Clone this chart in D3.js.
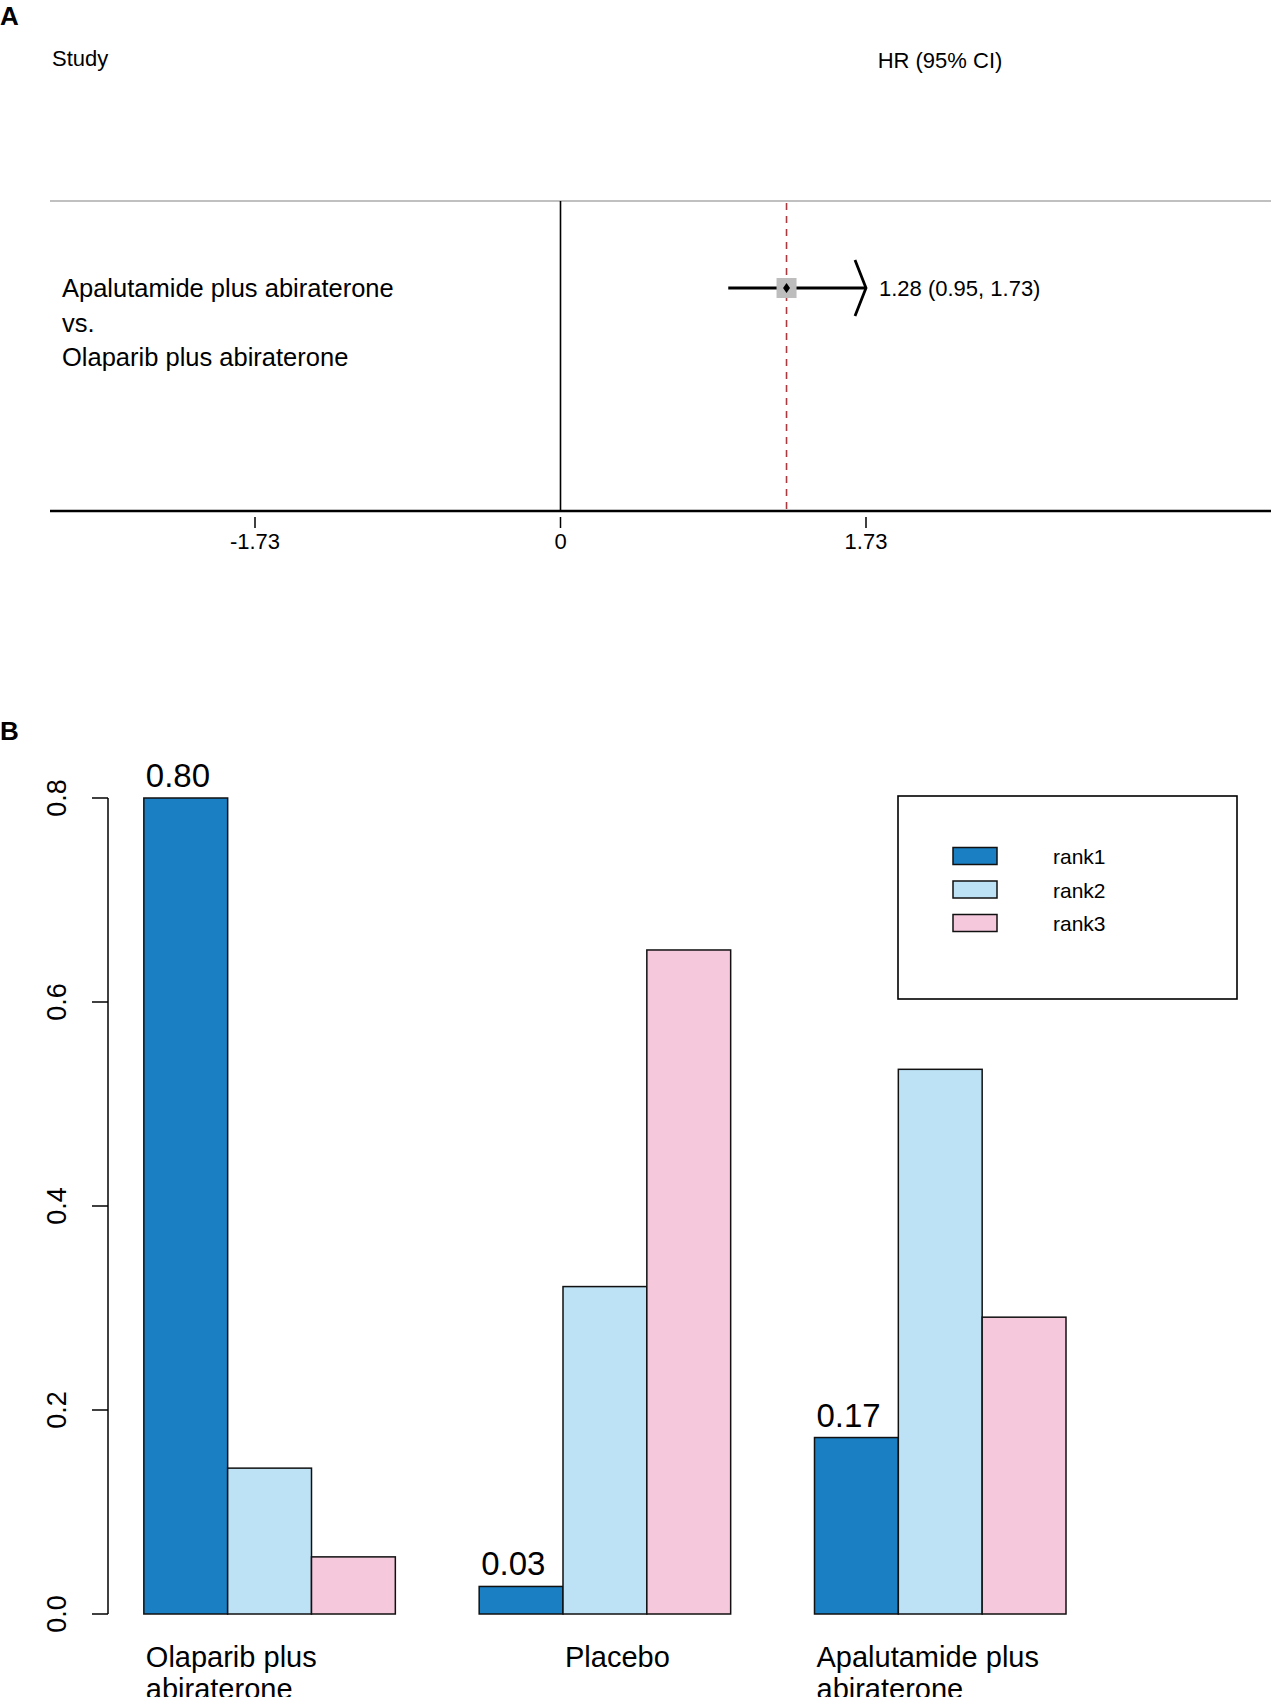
<!DOCTYPE html>
<html><head>
<meta charset="utf-8">
<script src="https://d3js.org/d3.v7.min.js"></script>
<style>
  body { margin: 0; background: #fff; }
  svg text { font-family: "Liberation Sans", Arial, sans-serif; fill: #000; }
</style>
</head>
<body>
<svg id="chart" width="1271" height="1697"></svg>
<script>
// ---- panel A data (forest plot)
const studyLines = ["Apalutamide plus abiraterone", "vs.", "Olaparib plus abiraterone"];
const hr = 1.28, ciLow = 0.95, ciHigh = 1.73;
const hrLabel = "1.28 (0.95, 1.73)";
const forestTicks = [-1.73, 0, 1.73];

// ---- panel B data (rank probabilities)
const treatments = [["Olaparib plus", "abiraterone"], ["Placebo"], ["Apalutamide plus", "abiraterone"]];
const ranks = ["rank1", "rank2", "rank3"];
const rank1 = [0.80, 0.027, 0.173];
const rank2 = [0.143, 0.321, 0.534];
const rank3 = [0.056, 0.651, 0.291];
const rank1Labels = ["0.80", "0.03", "0.17"];
const yTicks = [0.0, 0.2, 0.4, 0.6, 0.8];
const rankColors = ["#1a7fc3", "#bde2f6", "#f5c8dc"];

const svg = d3.select("#chart");

// ================= Panel A =================
const a = svg.append("g");
a.append("text").text("A").attr("x", 0).attr("y", 25)
  .attr("font-size", 26).attr("font-weight", "bold");

a.append("text").text("Study").attr("x", 52).attr("y", 66).attr("font-size", 22);
a.append("text").text("HR (95% CI)").attr("x", 940).attr("y", 68)
  .attr("font-size", 22).attr("text-anchor", "middle");

const xA = d3.scaleLinear().domain([-1.73, 1.73]).range([255, 866]);
const topY = 201, axisY = 511, rowY = 288;

a.append("line").attr("x1", 50).attr("x2", 1271).attr("y1", topY).attr("y2", topY)
  .attr("stroke", "#c0c0c0").attr("stroke-width", 2);

a.append("line").attr("x1", xA(0)).attr("x2", xA(0)).attr("y1", topY).attr("y2", axisY)
  .attr("stroke", "#000").attr("stroke-width", 1.6);

a.append("line").attr("x1", xA(hr)).attr("x2", xA(hr)).attr("y1", topY + 2).attr("y2", axisY)
  .attr("stroke", "#a83a40").attr("stroke-width", 1.6).attr("stroke-dasharray", "7,6");

a.append("line").attr("x1", 50).attr("x2", 1271).attr("y1", axisY).attr("y2", axisY)
  .attr("stroke", "#000").attr("stroke-width", 2.5);

const ticks = a.selectAll("g.tick").data(forestTicks).join("g").attr("class", "tick")
  .attr("transform", d => `translate(${xA(d)},0)`);
ticks.append("line").attr("y1", axisY + 6).attr("y2", axisY + 17)
  .attr("stroke", "#000").attr("stroke-width", 1.5);
ticks.append("text").text(d => String(d)).attr("y", axisY + 38)
  .attr("text-anchor", "middle").attr("font-size", 22);

// CI line with open arrow at upper bound
a.append("line").attr("x1", xA(ciLow)).attr("x2", xA(ciHigh)).attr("y1", rowY).attr("y2", rowY)
  .attr("stroke", "#000").attr("stroke-width", 2.8);
a.append("path")
  .attr("d", `M${xA(ciHigh) - 11},${rowY - 28} L${xA(ciHigh)},${rowY} L${xA(ciHigh) - 11},${rowY + 28}`)
  .attr("fill", "none").attr("stroke", "#000").attr("stroke-width", 2.8);
a.append("rect").attr("x", xA(hr) - 10).attr("y", rowY - 10).attr("width", 20).attr("height", 20)
  .attr("fill", "#bdbdbd");
a.append("path")
  .attr("d", `M${xA(hr)},${rowY - 5} L${xA(hr) + 3.5},${rowY} L${xA(hr)},${rowY + 5} L${xA(hr) - 3.5},${rowY} Z`)
  .attr("fill", "#000");
a.append("text").text(hrLabel).attr("x", xA(ciHigh) + 13).attr("y", rowY + 8).attr("font-size", 22);

a.selectAll("text.study").data(studyLines).join("text").attr("class", "study")
  .text(d => d).attr("x", 62).attr("y", (d, i) => 297 + i * 34.5).attr("font-size", 25.5);

// ================= Panel B =================
const b = svg.append("g");
b.append("text").text("B").attr("x", 0).attr("y", 740)
  .attr("font-size", 26).attr("font-weight", "bold");

const yB = d3.scaleLinear().domain([0, 0.8]).range([1614, 798]);
// R barplot(beside=TRUE): bar width 1, gap of 1 before every group
const xB = d3.scaleLinear().domain([0, 12]).range([60, 1066]);
const series = [rank1, rank2, rank3];
const bars = [];
treatments.forEach((t, g) => {
  series.forEach((s, r) => bars.push({ g, r, v: s[g], u: 1 + g * 4 + r }));
});

b.selectAll("rect.bar").data(bars).join("rect").attr("class", "bar")
  .attr("x", d => xB(d.u)).attr("width", d => xB(d.u + 1) - xB(d.u))
  .attr("y", d => yB(d.v)).attr("height", d => yB(0) - yB(d.v))
  .attr("fill", d => rankColors[d.r]).attr("stroke", "#111").attr("stroke-width", 1.5);

// rank1 probability labels, left-aligned on the bar
b.selectAll("text.val").data(bars.filter(d => d.r === 0)).join("text").attr("class", "val")
  .text(d => rank1Labels[d.g])
  .attr("x", d => xB(d.u) + 2).attr("y", d => yB(d.v) - 11)
  .attr("font-size", 33);

// y axis
const yAxisX = 108;
b.append("line").attr("x1", yAxisX).attr("x2", yAxisX).attr("y1", yB(0)).attr("y2", yB(0.8))
  .attr("stroke", "#000").attr("stroke-width", 1.5);
const yt = b.selectAll("g.ytick").data(yTicks).join("g").attr("class", "ytick")
  .attr("transform", d => `translate(0,${yB(d)})`);
yt.append("line").attr("x1", yAxisX - 16).attr("x2", yAxisX).attr("stroke", "#000").attr("stroke-width", 1.5);
yt.append("text").text(d => d.toFixed(1))
  .attr("transform", "translate(66,0) rotate(-90)")
  .attr("text-anchor", "middle").attr("font-size", 27);

// category labels (Placebo sits under its second bar)
const labelShift = [0, 1, 0];
treatments.forEach((lines, g) => {
  const t = b.append("text").attr("font-size", 29)
    .attr("x", xB(1 + g * 4 + labelShift[g]) + 2).attr("y", 1667);
  lines.forEach((ln, i) => t.append("tspan").text(ln)
    .attr("x", xB(1 + g * 4 + labelShift[g]) + 2).attr("dy", i === 0 ? 0 : 32));
});

// legend
const lg = b.append("g");
lg.append("rect").attr("x", 898).attr("y", 796).attr("width", 339).attr("height", 203)
  .attr("fill", "none").attr("stroke", "#000").attr("stroke-width", 1.6);
const li = lg.selectAll("g.item").data(ranks).join("g").attr("class", "item")
  .attr("transform", (d, i) => `translate(0,${856 + i * 33.5})`);
li.append("rect").attr("x", 953).attr("y", -8.5).attr("width", 44).attr("height", 17)
  .attr("fill", (d, i) => rankColors[i]).attr("stroke", "#111").attr("stroke-width", 1.5);
li.append("text").text(d => d).attr("x", 1053).attr("y", 8).attr("font-size", 21);
</script>
</body>
</html>
